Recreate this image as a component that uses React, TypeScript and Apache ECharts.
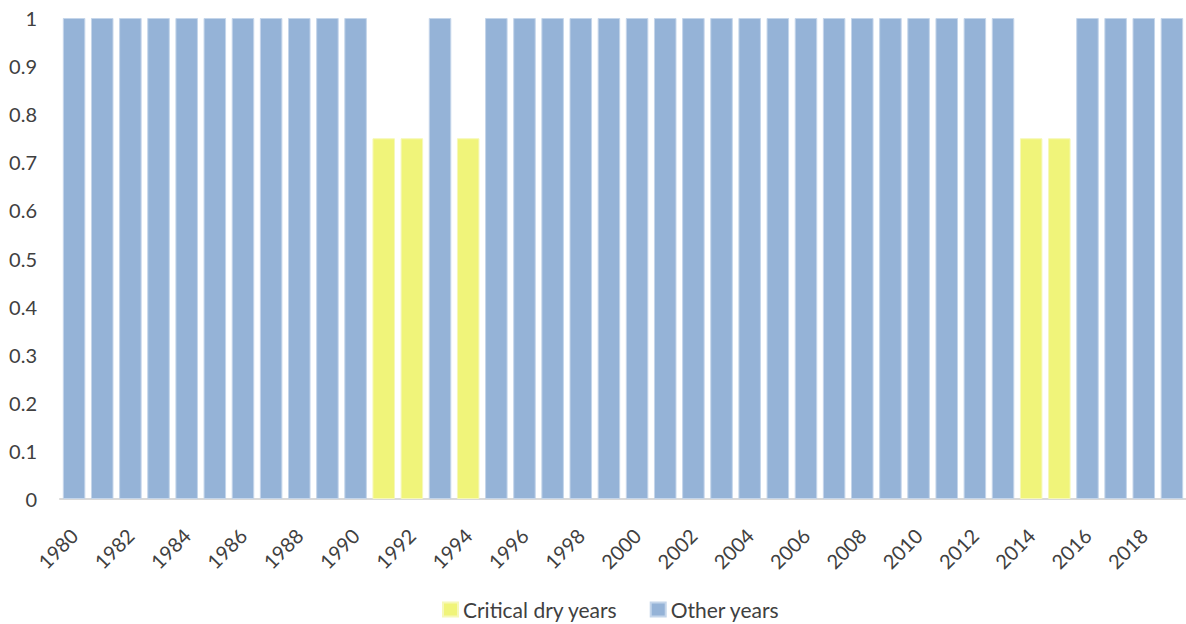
import React, { useEffect, useRef } from "react";
import * as echarts from "echarts";

const years: string[] = [];
for (let y = 1980; y <= 2019; y++) years.push(String(y));

const dryYears = ["1991", "1992", "1994", "2014", "2015"];
const dryValue = 0.75;
const otherValue = 1;

const dryData = years.map((y) => (dryYears.includes(y) ? dryValue : "-"));
const otherData = years.map((y) => (dryYears.includes(y) ? "-" : otherValue));

const yTicks = { min: 0, max: 1, interval: 0.1 };

export default function App() {
  const ref = useRef<HTMLDivElement>(null);
  useEffect(() => {
    document.body.style.margin = "0";
    const chart = echarts.init(ref.current!, null, { renderer: "svg" });
    const font = "Lato, 'Open Sans', sans-serif";
    chart.setOption({
      animation: false,
      textStyle: { fontFamily: font },
      grid: { left: 60, right: -6, top: 18, bottom: 125, containLabel: false },
      legend: {
        top: 594,
        left: 437,
        itemWidth: 15,
        itemHeight: 14,
        itemGap: 32,
        icon: "rect",
        textStyle: { fontSize: 21, color: "#404040", fontFamily: font },
        data: ["Critical dry years", "Other years"],
      },
      xAxis: {
        type: "category",
        data: years,
        axisLine: { lineStyle: { color: "#D9D9D9", width: 2 } },
        axisTick: { show: false },
        axisLabel: {
          interval: 1,
          rotate: 45,
          fontSize: 20,
          color: "#404040",
          margin: 33,
          fontFamily: font,
        },
      },
      yAxis: {
        type: "value",
        min: yTicks.min,
        max: yTicks.max,
        interval: yTicks.interval,
        splitLine: { show: false },
        axisLine: { show: false },
        axisTick: { show: false },
        axisLabel: {
          fontSize: 20,
          color: "#404040",
          margin: 23,
          fontFamily: font,
          formatter: (v: number) => String(Math.round(v * 10) / 10),
        },
      },
      series: [
        {
          name: "Critical dry years",
          type: "bar",
          stack: "all",
          data: dryData,
          barCategoryGap: "20%",
          itemStyle: { color: "#F0F47A", borderColor: "#F6F8B8", borderWidth: 1 },
        },
        {
          name: "Other years",
          type: "bar",
          stack: "all",
          data: otherData,
          barCategoryGap: "20%",
          itemStyle: { color: "#95B3D7", borderColor: "#C4D5EA", borderWidth: 1 },
        },
      ],
    });
    return () => chart.dispose();
  }, []);
  return <div ref={ref} style={{ width: 1186, height: 624 }} />;
}
